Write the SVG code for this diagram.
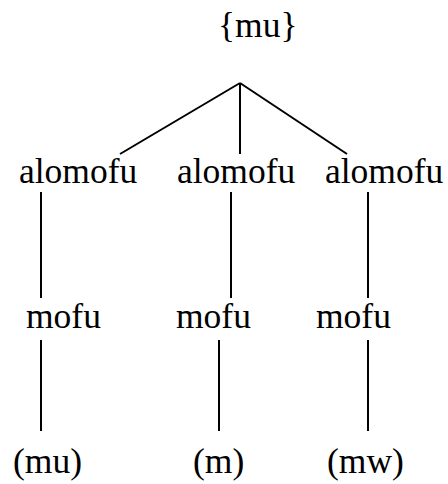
<svg xmlns="http://www.w3.org/2000/svg" width="448" height="484" viewBox="0 0 448 484">
<style>
text{font-family:"Liberation Serif","Times New Roman",serif;font-size:35.5px;fill:#000}
.c line{stroke:#000;stroke-width:2;fill:none}
</style>
<rect width="448" height="484" fill="#fff"/>
<g class="c" id="connectors">
<line x1="240" y1="83" x2="120" y2="154"/>
<line x1="240" y1="83" x2="240" y2="154"/>
<line x1="240" y1="83" x2="347" y2="154"/>
<line x1="41" y1="192" x2="41" y2="298"/>
<line x1="231" y1="192" x2="231" y2="298"/>
<line x1="368" y1="192" x2="368" y2="298"/>
<line x1="41" y1="340" x2="41" y2="431"/>
<line x1="219" y1="340" x2="219" y2="431"/>
<line x1="368" y1="340" x2="368" y2="431"/>
</g>
<g id="root"><text x="218" y="37">{mu}</text></g>
<g id="alo1"><text x="19" y="183">alomofu</text></g>
<g id="alo2"><text x="177" y="183">alomofu</text></g>
<g id="alo3"><text x="325" y="183">alomofu</text></g>
<g id="mofu1"><text x="26" y="328">mofu</text></g>
<g id="mofu2"><text x="176" y="328">mofu</text></g>
<g id="mofu3"><text x="316" y="328">mofu</text></g>
<g id="leaf1"><text x="13" y="473">(mu)</text></g>
<g id="leaf2"><text x="193" y="473">(m)</text></g>
<g id="leaf3"><text x="327" y="473">(mw)</text></g>
</svg>
